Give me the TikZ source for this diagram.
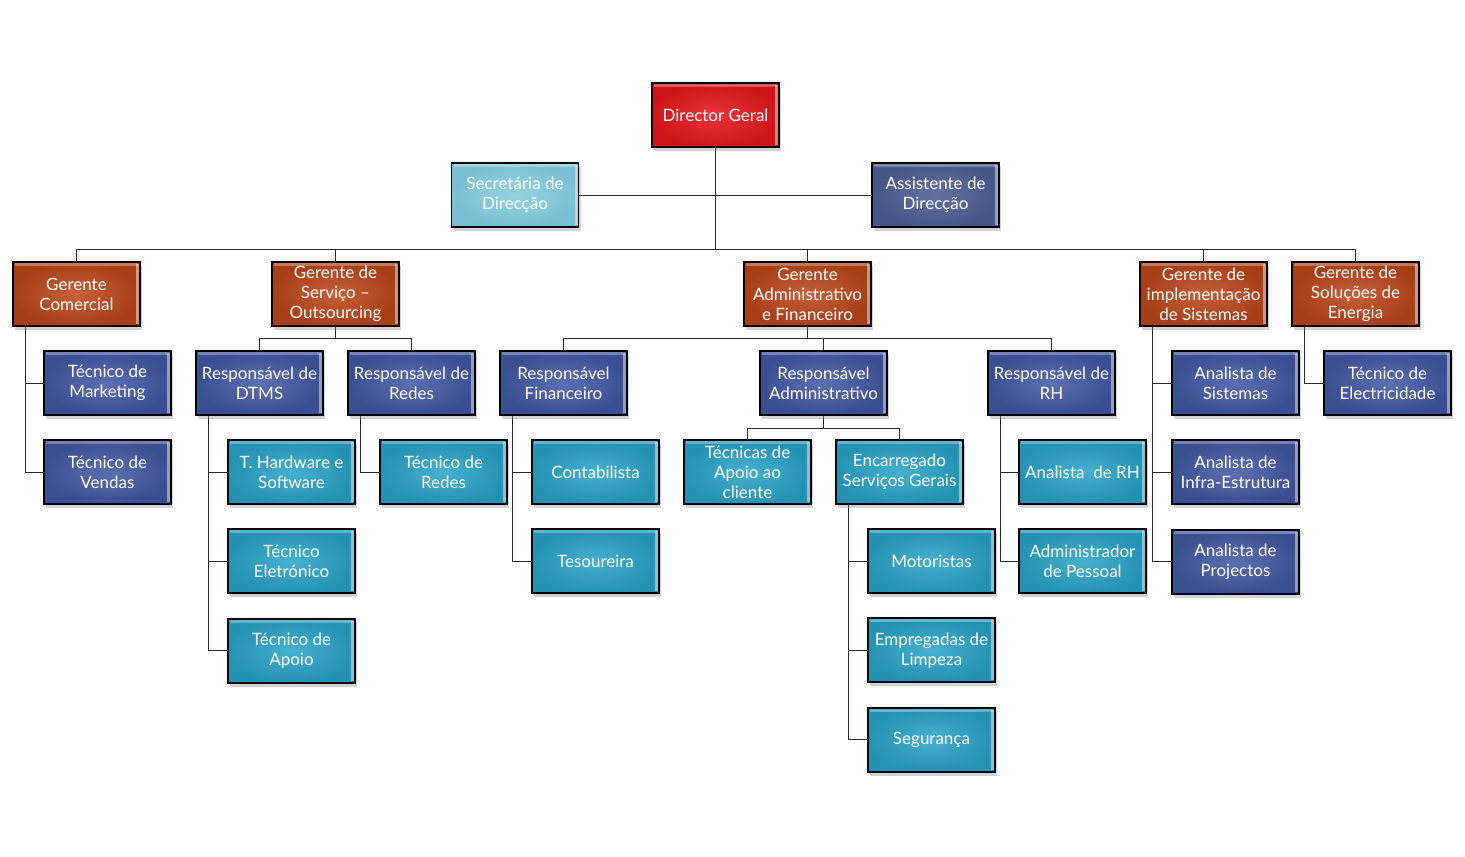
\documentclass[tikz,border=0pt]{standalone}
\usepackage{fontspec}
\setmainfont{Lato}
\usepackage{tikz}
\usetikzlibrary{positioning, shadows}
\pgfdeclarelayer{background}
\pgfsetlayers{background,main}
\definecolor{redtop}{RGB}{236,52,56}
\definecolor{redbot}{RGB}{205,20,24}
\definecolor{rusttop}{RGB}{196,96,58}
\definecolor{rustbot}{RGB}{168,62,22}
\definecolor{navytop}{RGB}{92,112,176}
\definecolor{navybot}{RGB}{58,78,146}
\definecolor{tealtop}{RGB}{70,176,206}
\definecolor{tealbot}{RGB}{36,146,178}
\definecolor{skytop}{RGB}{150,210,224}
\definecolor{skybot}{RGB}{122,192,210}
\definecolor{slatetop}{RGB}{100,114,160}
\definecolor{slatebot}{RGB}{70,86,136}
\definecolor{linkgray}{RGB}{40,40,40}

\begin{document}
\begin{tikzpicture}[x=1pt, y=-1pt,
    box/.style={rectangle, draw=black, line width=1.8pt, minimum width=127pt, minimum height=64pt,
                inner sep=1pt, align=center, text=white, font=\fontsize{17}{20}\selectfont,
                drop shadow={shadow xshift=2pt, shadow yshift=-4pt, opacity=0.35},
                path picture={
                  \draw[white, opacity=0.45, line width=3pt]
                    ([xshift=-2.5pt,yshift=-2pt]path picture bounding box.north east)
                    -- ([xshift=-2.5pt,yshift=2pt]path picture bounding box.south east);
                  \draw[white, opacity=0.3, line width=3pt]
                    ([xshift=2pt,yshift=-2.5pt]path picture bounding box.north west)
                    -- ([xshift=-2pt,yshift=-2.5pt]path picture bounding box.north east);
                }},
    redbox/.style={box, inner color=redtop, outer color=redbot},
    rustbox/.style={box, inner color=rusttop, outer color=rustbot},
    navybox/.style={box, inner color=navytop, outer color=navybot},
    tealbox/.style={box, inner color=tealtop, outer color=tealbot},
    skybox/.style={box, inner color=skytop, outer color=skybot},
    slatebox/.style={box, inner color=slatetop, outer color=slatebot},
    link/.style={draw=linkgray, line width=1pt}
]
\useasboundingbox (0,0) rectangle (1465,857);

% direction
\node[redbox] (dg) at (715.5,115) {Director Geral};
\node[skybox] (sd) at (515,195) {Secretária de\\Direcção};
\node[slatebox] (ad) at (935.5,195) {Assistente de\\Direcção};

% gerentes
\node[rustbox] (gc) at (76.5,294) {Gerente\\Comercial};
\node[rustbox] (gs) at (335.5,294) {Gerente de\\Serviço --\\Outsourcing};
\node[rustbox] (ga) at (807.5,294) {Gerente\\Administrativo\\e Financeiro};
\node[rustbox] (gi) at (1203.5,294) {Gerente de\\implementação\\de Sistemas};
\node[rustbox] (ge) at (1355.5,294) {Gerente de\\Soluções de\\Energia};

% responsaveis
\node[navybox] (tm) at (107.5,383) {Técnico de\\Marketing};
\node[navybox] (rd) at (259.5,383) {Responsável de\\DTMS};
\node[navybox] (rr) at (411.5,383) {Responsável de\\Redes};
\node[navybox] (rf) at (563.5,383) {Responsável\\Financeiro};
\node[navybox] (ra) at (823.5,383) {Responsável\\Administrativo};
\node[navybox] (rh) at (1051.5,383) {Responsável de\\RH};
\node[navybox] (as) at (1235.5,383) {Analista de\\Sistemas};
\node[navybox] (te) at (1387.5,383) {Técnico de\\Electricidade};

\node[navybox, below=23.5pt of tm] (tv) {Técnico de\\Vendas};
\node[tealbox] (th) at (291.5,472) {T. Hardware e\\Software};
\node[tealbox, below=23.5pt of th] (tel) {Técnico\\Eletrónico};
\node[tealbox, below=23.5pt of tel] (tap) {Técnico de\\Apoio};
\node[tealbox] (tr) at (443.5,472) {Técnico de\\Redes};
\node[tealbox] (ct) at (595.5,472) {Contabilista};
\node[tealbox, below=23.5pt of ct] (ts) {Tesoureira};
\node[tealbox] (ta) at (747.5,472) {Técnicas de\\Apoio ao\\cliente};
\node[tealbox] (es) at (899.5,472) {Encarregado\\Serviços Gerais};
\node[tealbox] (mo) at (931.5,561) {Motoristas};
\node[tealbox, below=23.5pt of mo] (el) {Empregadas de\\Limpeza};
\node[tealbox, below=23.5pt of el] (sg) {Segurança};
\node[tealbox] (ar) at (1082.5,472) {Analista~~de RH};
\node[tealbox, below=23.5pt of ar] (ap) {Administrador\\de Pessoal};
\node[navybox, below=23.5pt of as] (ai) {Analista de\\Infra-Estrutura};
\node[navybox, below=23.5pt of ai] (pj) {Analista de\\Projectos};

% ligacoes
\coordinate (bus) at (715.5,249);
\coordinate (gsbus) at (335.5,338);
\coordinate (gabus) at (807.5,338);
\coordinate (rabus) at (823.5,428);
\begin{pgfonlayer}{background}
\draw[link] (sd.east) -- (ad.west);
\draw[link] (dg.south) -- (bus);
\foreach \n in {gc,gs,ga,gi,ge} \draw[link] (\n.north) |- (bus);
\foreach \n in {tm,tv} \draw[link] ([xshift=13pt]gc.south west) |- (\n.west);
\draw[link] (gs.south) -- (gsbus);
\foreach \n in {rd,rr} \draw[link] (\n.north) |- (gsbus);
\foreach \n in {th,tel,tap} \draw[link] ([xshift=13pt]rd.south west) |- (\n.west);
\draw[link] ([xshift=13pt]rr.south west) |- (tr.west);
\draw[link] (ga.south) -- (gabus);
\foreach \n in {rf,ra,rh} \draw[link] (\n.north) |- (gabus);
\foreach \n in {ct,ts} \draw[link] ([xshift=13pt]rf.south west) |- (\n.west);
\draw[link] (ra.south) -- (rabus);
\foreach \n in {ta,es} \draw[link] (\n.north) |- (rabus);
\foreach \n in {mo,el,sg} \draw[link] ([xshift=13pt]es.south west) |- (\n.west);
\foreach \n in {ar,ap} \draw[link] ([xshift=13pt]rh.south west) |- (\n.west);
\foreach \n in {as,ai,pj} \draw[link] ([xshift=13pt]gi.south west) |- (\n.west);
\draw[link] ([xshift=13pt]ge.south west) |- (te.west);
\end{pgfonlayer}
\end{tikzpicture}
\end{document}
